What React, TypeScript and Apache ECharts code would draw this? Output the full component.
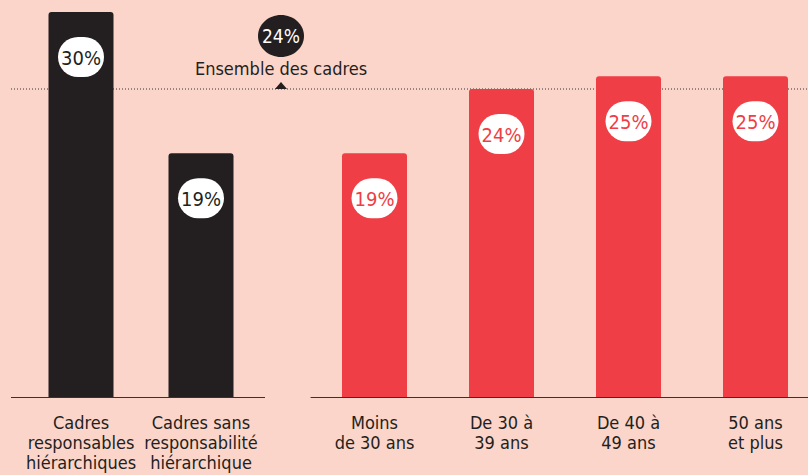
import React, { useEffect, useRef } from "react";
import * as echarts from "echarts";

const categoriesA = ["Cadres\nresponsables\nhiérarchiques", "Cadres sans\nresponsabilité\nhiérarchique"];
const valuesA = [30, 19];
const categoriesB = ["Moins\nde 30 ans", "De 30 à\n39 ans", "De 40 à\n49 ans", "50 ans\net plus"];
const valuesB = [19, 24, 25, 25];
const overallValue = 24;
const overallLabel = "Ensemble des cadres";
const yMax = 30;

const BG = "#FCD5CA";
const DARK = "#231F20";
const RED = "#EF3E45";
const FONT = "'Liberation Sans Narrow', 'DejaVu Sans Condensed', 'Open Sans', sans-serif";

export default function App() {
  const ref = useRef<HTMLDivElement>(null);
  useEffect(() => {
    document.body.style.margin = "0";
    document.body.style.background = BG;
    const chart = echarts.init(ref.current!, null, { renderer: "svg" });
    const label = (color: string) => ({
      show: true,
      position: "insideTop",
      distance: 25,
      formatter: "{c}%",
      backgroundColor: "#ffffff",
      borderRadius: 21,
      padding: [10, 4, 9, 4],
      width: 38,
      align: "center",
      fontSize: 20,
      lineHeight: 21,
      fontFamily: FONT,
      color,
    });
    const axisLabel = {
      interval: 0,
      fontSize: 18,
      lineHeight: 20,
      margin: 15,
      color: DARK,
      fontFamily: FONT,
    };
    chart.setOption({
      animation: false,
      backgroundColor: BG,
      grid: [
        { left: 21, width: 240, top: 12, bottom: 78, outerBoundsMode: "none", containLabel: false },
        { left: 311, width: 508, top: 12, bottom: 78, outerBoundsMode: "none", containLabel: false },
      ],
      xAxis: [
        {
          type: "category",
          gridIndex: 0,
          data: categoriesA,
          axisLine: { show: false },
          axisTick: { show: false },
          axisLabel,
        },
        {
          type: "category",
          gridIndex: 1,
          data: categoriesB,
          axisLine: { show: true, lineStyle: { color: "#333", width: 1 } },
          axisTick: { show: false },
          axisLabel,
        },
      ],
      yAxis: [
        { type: "value", gridIndex: 0, min: 0, max: yMax, show: false, splitLine: { show: false } },
        { type: "value", gridIndex: 1, min: 0, max: yMax, show: false, splitLine: { show: false } },
      ],
      series: [
        {
          type: "bar",
          xAxisIndex: 0,
          yAxisIndex: 0,
          data: valuesA,
          barWidth: 65,
          itemStyle: { color: DARK, borderRadius: [3, 3, 0, 0] },
          label: label(DARK),
        },
        {
          type: "bar",
          xAxisIndex: 1,
          yAxisIndex: 1,
          data: valuesB,
          barWidth: 65,
          itemStyle: { color: RED, borderRadius: [3, 3, 0, 0] },
          label: label(RED),
        },
      ],
    });

    const yLine = chart.convertToPixel({ yAxisIndex: 0 }, overallValue) as number;
    const yBase = chart.convertToPixel({ yAxisIndex: 0 }, 0) as number;
    const cx = 281;
    chart.setOption({
      graphic: [
        {
          type: "line",
          shape: { x1: 11, y1: yBase + 0.5, x2: 265, y2: yBase + 0.5 },
          style: { stroke: "#333", lineWidth: 1 },
          z: 1,
        },
        {
          type: "line",
          shape: { x1: 11, y1: yLine, x2: 808, y2: yLine },
          style: { stroke: "#333", lineWidth: 1, lineDash: [1, 2] },
          z: 0,
        },
        {
          type: "polygon",
          shape: { points: [[cx - 6, yLine], [cx + 6, yLine], [cx, yLine - 7]] },
          style: { fill: DARK },
        },
        {
          type: "text",
          x: cx,
          y: yLine - 21,
          style: {
            text: overallLabel,
            fill: DARK,
            fontSize: 18,
            fontFamily: FONT,
            align: "center",
            verticalAlign: "middle",
          },
        },
        {
          type: "ellipse",
          shape: { cx: cx, cy: yLine - 53, rx: 23, ry: 21 },
          style: { fill: DARK },
        },
        {
          type: "text",
          x: cx,
          y: yLine - 53,
          style: {
            text: overallValue + "%",
            fill: "#ffffff",
            fontSize: 19,
            fontFamily: FONT,
            align: "center",
            verticalAlign: "middle",
          },
        },
      ],
    });
    return () => chart.dispose();
  }, []);
  return <div ref={ref} style={{ position: "absolute", left: 0, top: 0, width: 808, height: 475 }} />;
}
